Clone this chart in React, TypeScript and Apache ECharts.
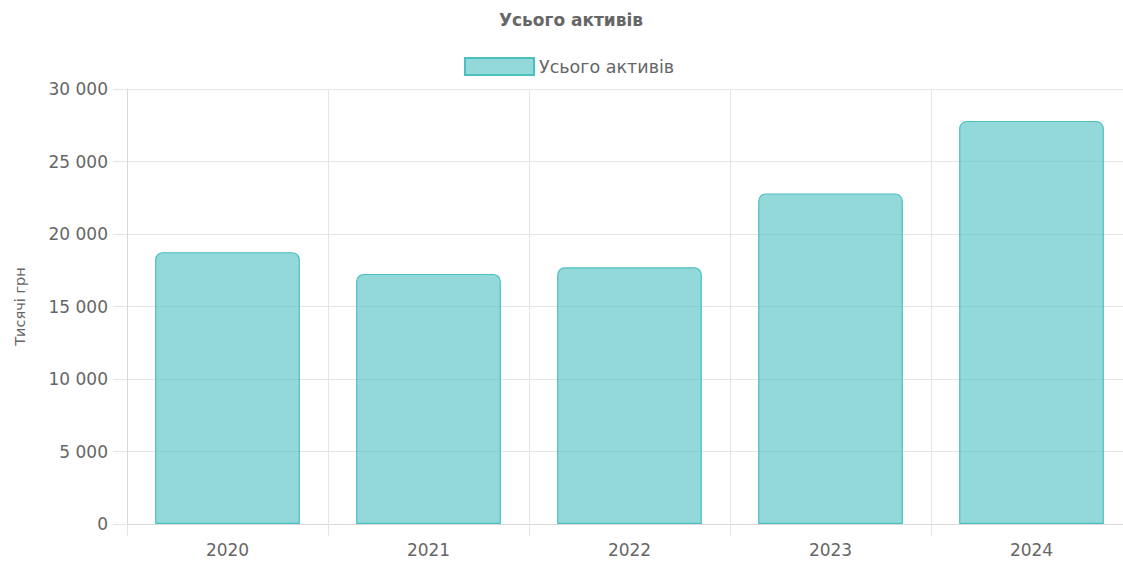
import React, { useEffect, useRef } from "react";
import * as echarts from "echarts";

const categories = ["2020", "2021", "2022", "2023", "2024"];
const values = [18750, 17250, 17700, 22800, 27800];
const seriesName = "Усього активів";
const titleText = "Усього активів";
const yAxisName = "Тисячі грн";

const FONT = "'DejaVu Sans', 'Liberation Sans', Arial, sans-serif";

function fmt(v: number): string {
  return String(v).replace(/\B(?=(\d{3})+(?!\d))/g, " ");
}

export default function App() {
  const ref = useRef<HTMLDivElement>(null);
  useEffect(() => {
    if (!ref.current) return;
    const chart = echarts.init(ref.current, undefined, { renderer: "svg" });
    chart.setOption({
      animation: false,
      backgroundColor: "#fff",
      textStyle: { fontFamily: FONT },
      title: {
        text: titleText,
        left: 566,
        textAlign: "center",
        top: 6,
        textStyle: { fontSize: 17, fontWeight: "bold", color: "#666", fontFamily: FONT },
      },
      legend: {
        left: 459,
        top: 52,
        icon: "rect",
        itemWidth: 69,
        itemHeight: 17,
        itemGap: 10,
        textStyle: { fontSize: 17.5, color: "#666", fontFamily: FONT },
        data: [seriesName],
      },
      grid: { left: 127, top: 89, bottom: 37, right: 0, containLabel: false },
      xAxis: {
        type: "category",
        data: categories,
        boundaryGap: true,
        axisLine: { show: true, lineStyle: { color: "#d9d9d9", width: 1 } },
        axisTick: { show: true, length: 12, alignWithLabel: false, lineStyle: { color: "#e5e5e5" } },
        splitLine: { show: true, lineStyle: { color: "#e5e5e5", width: 1 } },
        axisLabel: { color: "#666", fontSize: 17, margin: 17, fontFamily: FONT },
      },
      yAxis: {
        type: "value",
        min: 0,
        max: 30000,
        interval: 5000,
        name: yAxisName,
        nameLocation: "middle",
        nameGap: 100,
        nameRotate: 90,
        nameTextStyle: { color: "#666", fontSize: 14.5, fontFamily: FONT },
        axisLine: { show: true, lineStyle: { color: "#d9d9d9", width: 1 } },
        axisTick: { show: true, length: 14, lineStyle: { color: "#e5e5e5" } },
        splitLine: { show: true, lineStyle: { color: "#e5e5e5", width: 1 } },
        axisLabel: { color: "#666", fontSize: 17, margin: 19, formatter: (v: number) => fmt(v), fontFamily: FONT },
      },
      series: [
        {
          name: seriesName,
          type: "bar",
          data: values,
          barCategoryGap: "28%",
          itemStyle: {
            color: "rgba(75,192,192,0.6)",
            borderColor: "rgb(75,192,192)",
            borderWidth: 1.2,
            borderRadius: [7, 7, 0, 0],
          },
        },
      ],
    });
    return () => chart.dispose();
  }, []);
  return (
    <div style={{ width: 1123, height: 561, position: "absolute", left: 0, top: 0, overflow: "hidden", background: "#fff" }}>
      <div ref={ref} style={{ width: 1132, height: 561, position: "absolute", left: 0, top: 0 }} />
    </div>
  );
}
